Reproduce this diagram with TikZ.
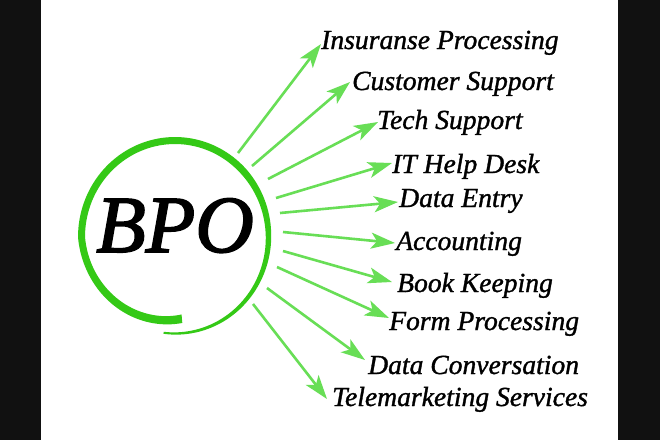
\documentclass[tikz,border=0pt]{standalone}
\usepackage{fontspec}
\setmainfont{Liberation Serif}
\newfontfamily\lblfont[FakeBold=1.2]{Liberation Serif Italic}
\newfontfamily\bigfont[FakeBold=2]{Liberation Serif Italic}
\usetikzlibrary{arrows.meta}
\definecolor{circgreen}{RGB}{52,201,22}
\definecolor{arrowgreen}{RGB}{104,222,86}
\definecolor{barblack}{RGB}{17,17,17}
\begin{document}
\begin{tikzpicture}[x=1pt,y=-1pt,
  declare function={sf(\t)=1-0.15*max(0,(\t-180)/95);
                    wd(\t)=min(7,2+5*(\t+97)/140)+1.5*max(0,(\t-200)/75);},
  lbl/.style={anchor=base west,inner sep=0pt,font=\lblfont\fontsize{27.6}{27.6}\selectfont,text=black},
  ray/.style={draw=arrowgreen,line width=2.6pt,-{Stealth[length=24pt,width=16pt,inset=6pt]}}]
\useasboundingbox (0,0) rectangle (660,440);
\fill[white] (0,0) rectangle (660,440);
\fill[barblack] (0,0) rectangle (41,440);
\fill[barblack] (618,0) rectangle (660,440);
% brush circle
\fill[circgreen]
  plot[domain=-97:275,samples=150,variable=\t]
    ({175+(93.5*sf(\t)+wd(\t)/2)*cos(\t)},{237-(96.5*sf(\t)+wd(\t)/2)*sin(\t)})
  -- plot[domain=275:-97,samples=150,variable=\t]
    ({175+(93.5*sf(\t)-wd(\t)/2)*cos(\t)},{237-(96.5*sf(\t)-wd(\t)/2)*sin(\t)})
  -- cycle;
\node[anchor=base,inner sep=0pt,font=\bigfont\fontsize{81}{81}\selectfont] (bpo) at (175,252) {BPO};
% labels
\node[lbl] (ins) at (321,49) {Insuranse Processing};
\node[lbl] (cus) at (352,90) {Customer Support};
\node[lbl] (tec) at (377,129) {Tech Support};
\node[lbl] (ith) at (392,173) {IT Help Desk};
\node[lbl] (dat) at (399,207) {Data Entry};
\node[lbl] (acc) at (396,250) {Accounting};
\node[lbl] (boo) at (397,292) {Book Keeping};
\node[lbl] (frm) at (389,330) {Form Processing};
\node[lbl] (dcv) at (368,374) {Data Conversation};
\node[lbl] (tel) at (332,406) {Telemarketing Services};
% arrow ends
\coordinate (s1) at (238,153); \coordinate (t1) at (321,44);
\coordinate (s2) at (252,166); \coordinate (t2) at (350,82);
\coordinate (s3) at (268,179); \coordinate (t3) at (378,122);
\coordinate (s4) at (276,198); \coordinate (t4) at (392,163);
\coordinate (s5) at (280,213); \coordinate (t5) at (398,202);
\coordinate (s6) at (283,232); \coordinate (t6) at (395,243);
\coordinate (s7) at (283,251); \coordinate (t7) at (392,282);
\coordinate (s8) at (277,267); \coordinate (t8) at (389,318);
\coordinate (s9) at (267,288); \coordinate (t9) at (365,360);
\coordinate (s10) at (253,304); \coordinate (t10) at (327,399);
\foreach \i in {1,...,10} {\draw[ray] (s\i) -- (t\i);}
\end{tikzpicture}
\end{document}
